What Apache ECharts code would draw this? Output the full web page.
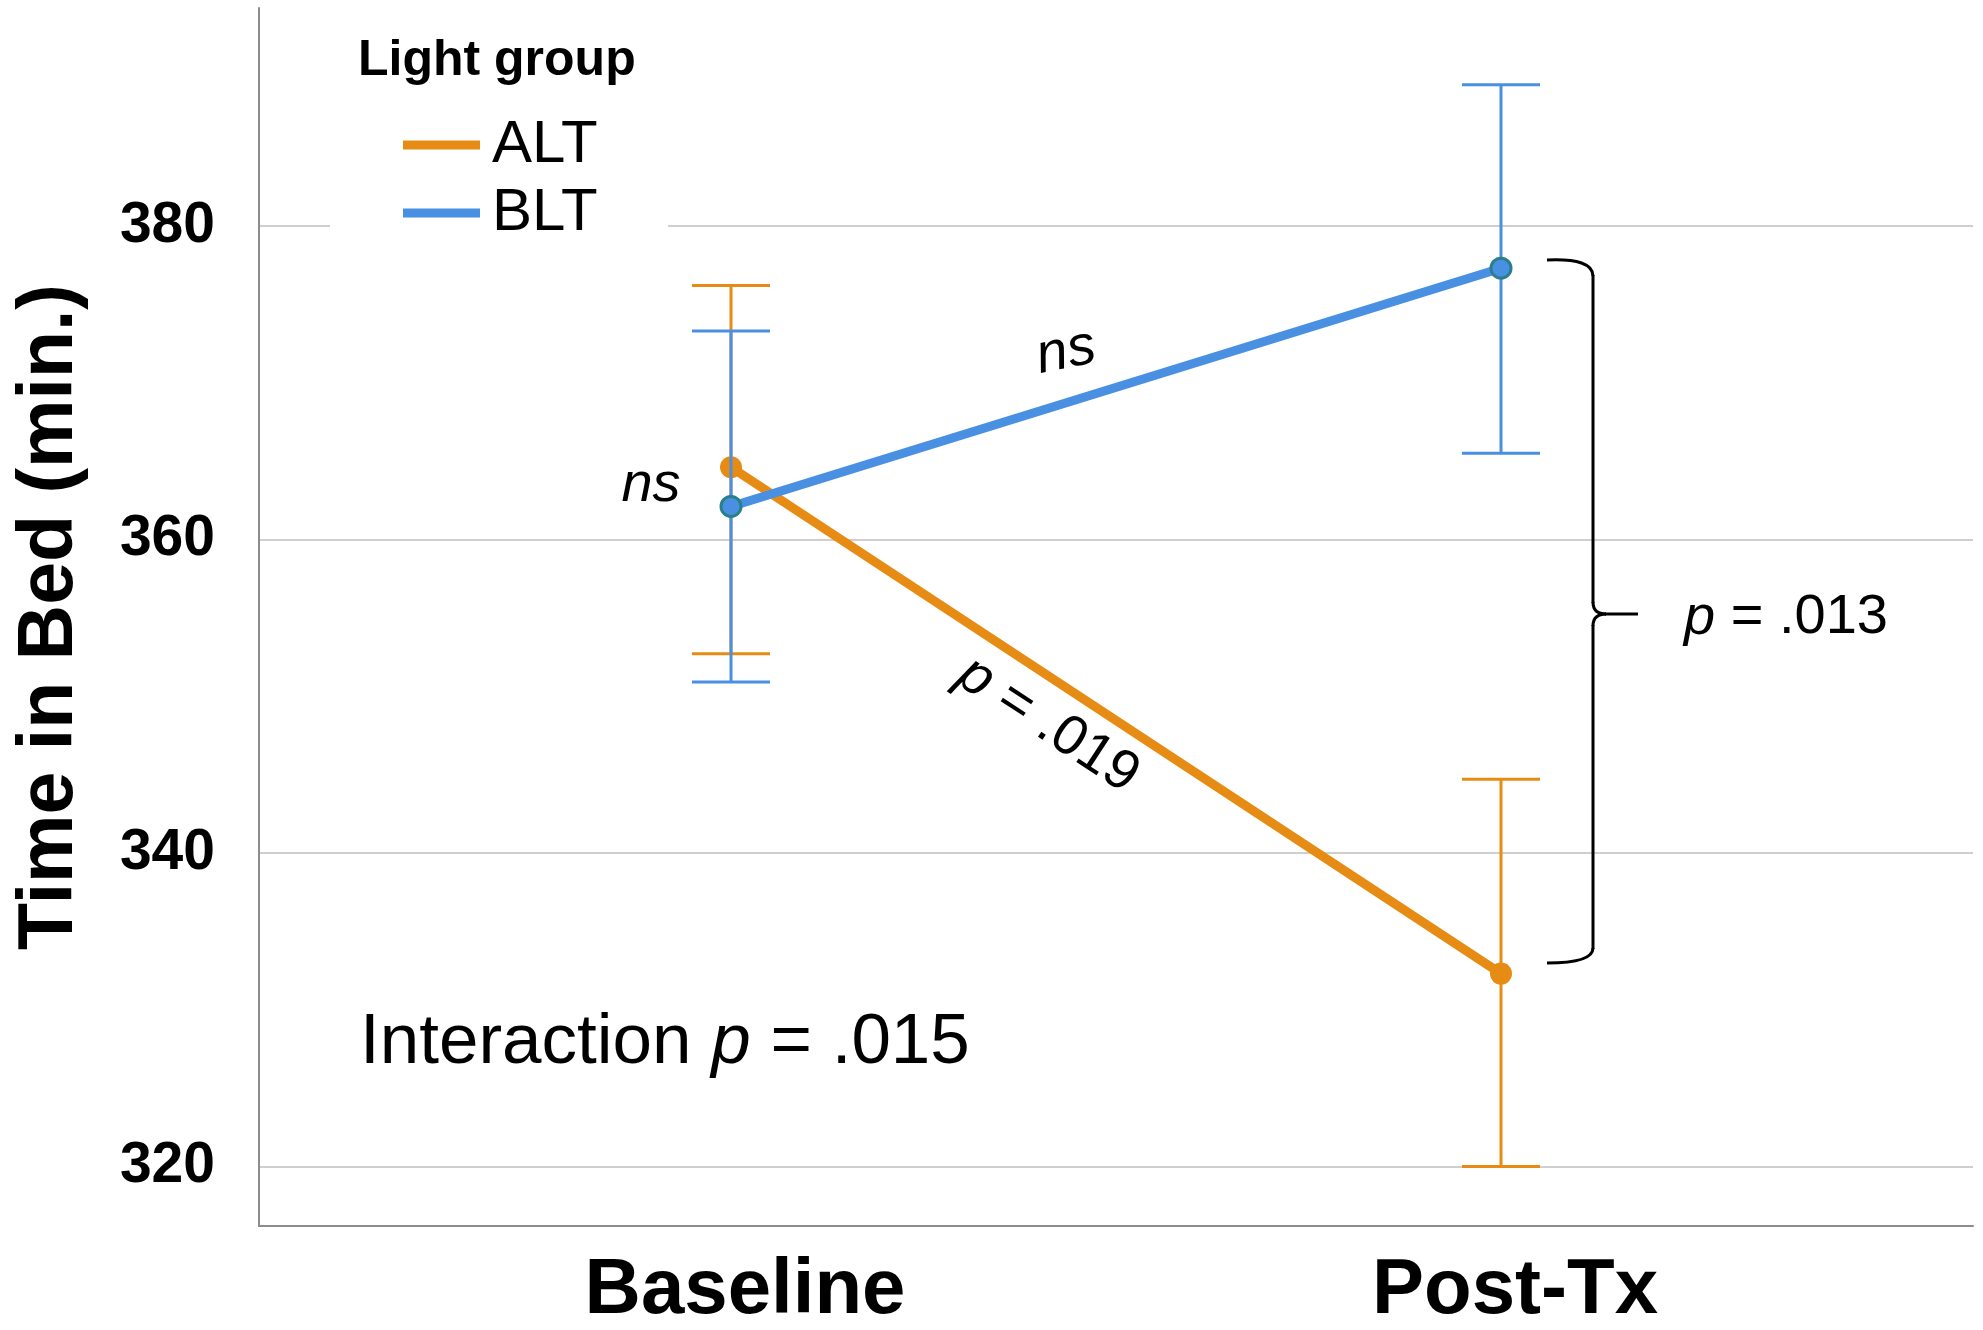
<!DOCTYPE html>
<html><head><meta charset="utf-8">
<script src="https://cdn.jsdelivr.net/npm/echarts@6/dist/echarts.min.js"></script>
<style>html,body{margin:0;padding:0;background:#fff}#c{width:1983px;height:1330px}</style>
</head><body><div id="c"></div>
<script>
// ---- data ----
const categories = ['Baseline', 'Post-Tx'];
const yTicks = [320, 340, 360, 380];
const altMean = [364.6, 332.3];
const altLow  = [352.7, 320.0];
const altHigh = [376.2, 344.7];
const bltMean = [362.1, 377.3];
const bltLow  = [350.9, 365.5];
const bltHigh = [373.3, 389.0];

const ORANGE = '#E68C14', BLUE = '#4A90E2';
const FONT = '"Liberation Sans", Arial, sans-serif';

function pts(arr) { return arr.map((v, i) => [i, v]); }
function errData(low, high) { return categories.map((c, i) => [i, low[i], high[i]]); }
function errRender(color) {
  return function (params, api) {
    const x = api.value(0);
    const lo = api.coord([x, api.value(1)]);
    const hi = api.coord([x, api.value(2)]);
    const hw = 39;
    const style = { stroke: color, lineWidth: 3, fill: null };
    return { type: 'group', children: [
      { type: 'line', shape: { x1: lo[0], y1: lo[1], x2: hi[0], y2: hi[1] }, style },
      { type: 'line', shape: { x1: lo[0] - hw, y1: lo[1], x2: lo[0] + hw, y2: lo[1] }, style },
      { type: 'line', shape: { x1: hi[0] - hw, y1: hi[1], x2: hi[0] + hw, y2: hi[1] }, style }
    ]};
  };
}

const braceStyle = { stroke: '#000', lineWidth: 3, fill: null };
const chart = echarts.init(document.getElementById('c'), null, { renderer: 'canvas' });
const option = {
  backgroundColor: '#fff',
  animation: false,
  textStyle: { fontFamily: FONT },
  grid: { left: 259, right: 10, top: 8, bottom: 104, containLabel: false },
  xAxis: {
    type: 'value', min: -0.613, max: 1.613,
    axisLine: { show: true, onZero: false, lineStyle: { color: '#8c8c8c', width: 2 } },
    axisTick: { show: false },
    splitLine: { show: false },
    axisLabel: {
      customValues: [0, 1],
      formatter: v => categories[Math.round(v)],
      fontSize: 78, fontWeight: 'bold', color: '#000', fontFamily: FONT, margin: 26,
      padding: [0, 0, 0, 28]
    }
  },
  yAxis: {
    type: 'value', min: 316.2, max: 393.9,
    name: 'Time in Bed (min.)', nameLocation: 'middle', nameRotate: 90, nameGap: 170,
    nameTextStyle: { fontSize: 77, fontWeight: 'bold', color: '#000', fontFamily: FONT },
    axisLine: { show: true, onZero: false, lineStyle: { color: '#8c8c8c', width: 2 } },
    axisTick: { show: false, customValues: yTicks },
    splitLine: { show: true, lineStyle: { color: '#cfcfcf', width: 2 } },
    axisLabel: {
      customValues: yTicks,
      fontSize: 57, fontWeight: 'bold', color: '#000', fontFamily: FONT, margin: 44
    }
  },
  legend: {
    orient: 'vertical', left: 398, top: 110, itemGap: 8,
    itemWidth: 77, itemHeight: 9, icon: 'rect', z: 20,
    textStyle: { fontSize: 60, color: '#000', fontFamily: FONT, padding: [0, 0, 0, 7] },
    data: [
      { name: 'ALT', itemStyle: { color: ORANGE } },
      { name: 'BLT', itemStyle: { color: BLUE } }
    ]
  },
  series: [
    { name: 'ALT', type: 'custom', renderItem: errRender(ORANGE), data: errData(altLow, altHigh), z: 3, encode: { x: 0, y: [1, 2] } },
    { name: 'ALT', type: 'line', data: pts(altMean), z: 4,
      lineStyle: { color: ORANGE, width: 9 }, itemStyle: { color: ORANGE },
      symbol: 'circle', symbolSize: 22, showSymbol: true },
    { name: 'BLT', type: 'custom', renderItem: errRender(BLUE), data: errData(bltLow, bltHigh), z: 5, encode: { x: 0, y: [1, 2] } },
    { name: 'BLT', type: 'line', data: pts(bltMean), z: 6,
      lineStyle: { color: BLUE, width: 9 }, itemStyle: { color: BLUE, borderColor: '#2A7F8C', borderWidth: 3 },
      symbol: 'circle', symbolSize: 20, showSymbol: true }
  ],
  graphic: [
    { type: 'rect', z: 10, shape: { x: 330, y: 20, width: 338, height: 232 }, style: { fill: '#fff' } },
    { type: 'text', z: 21, x: 358, y: 36, style: { text: 'Light group', font: 'bold 50px ' + FONT, fill: '#000' } },
    { type: 'text', z: 21, x: 651, y: 485, style: { text: 'ns', font: 'italic 56px ' + FONT, fill: '#000', align: 'center', verticalAlign: 'middle' } },
    { type: 'text', z: 21, x: 1066, y: 352, rotation: 0.2, style: { text: 'ns', font: 'italic 56px ' + FONT, fill: '#000', align: 'center', verticalAlign: 'middle' } },
    { type: 'text', z: 21, x: 1048, y: 725, rotation: -0.58, style: {
        text: '{i|p} = .019', font: '56px ' + FONT, fill: '#000', align: 'center', verticalAlign: 'middle',
        rich: { i: { fontStyle: 'italic', fontSize: 56, fontFamily: FONT } } } },
    { type: 'text', z: 21, x: 1684, y: 618, style: {
        text: '{i|p} = .013', font: '56px ' + FONT, fill: '#000', align: 'left', verticalAlign: 'middle',
        rich: { i: { fontStyle: 'italic', fontSize: 56, fontFamily: FONT } } } },
    { type: 'text', z: 21, x: 360, y: 1043, style: {
        text: 'Interaction {i|p} = .015', font: '71px ' + FONT, fill: '#000', align: 'left', verticalAlign: 'middle',
        rich: { i: { fontStyle: 'italic', fontSize: 71, fontFamily: FONT } } } },
    // curly brace
    { type: 'bezierCurve', z: 21, shape: { x1: 1547, y1: 260, cpx1: 1593, cpy1: 258, x2: 1593, y2: 276 }, style: braceStyle },
    { type: 'line', z: 21, shape: { x1: 1593, y1: 275, x2: 1593, y2: 603 }, style: braceStyle },
    { type: 'bezierCurve', z: 21, shape: { x1: 1593, y1: 602, cpx1: 1593, cpy1: 614, x2: 1606, y2: 614 }, style: braceStyle },
    { type: 'line', z: 21, shape: { x1: 1605, y1: 614, x2: 1638, y2: 614 }, style: braceStyle },
    { type: 'bezierCurve', z: 21, shape: { x1: 1606, y1: 614, cpx1: 1593, cpy1: 614, x2: 1593, y2: 626 }, style: braceStyle },
    { type: 'line', z: 21, shape: { x1: 1593, y1: 625, x2: 1593, y2: 949 }, style: braceStyle },
    { type: 'bezierCurve', z: 21, shape: { x1: 1593, y1: 948, cpx1: 1593, cpy1: 963, x2: 1547, y2: 963 }, style: braceStyle }
  ]
};
chart.setOption(option);
</script>
</body></html>
